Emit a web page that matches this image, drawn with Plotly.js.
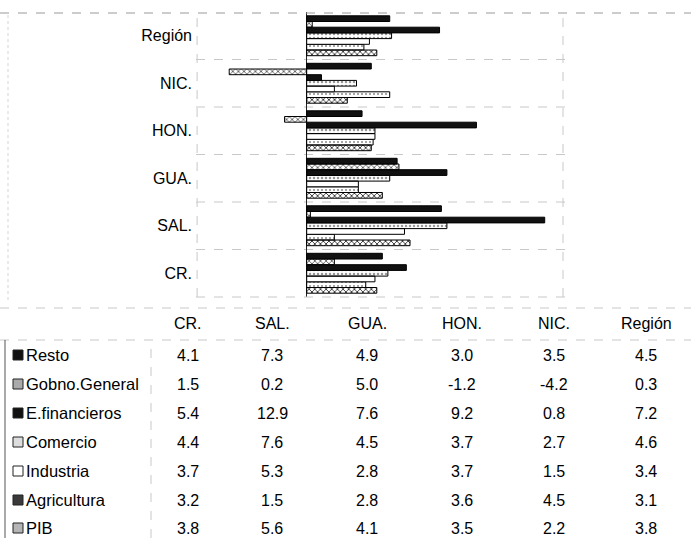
<!DOCTYPE html>
<html>
<head>
<meta charset="utf-8">
<script src="https://cdn.plot.ly/plotly-3.0.1.min.js"></script>
<style>html,body{margin:0;padding:0;background:#fff;}#chart{width:691px;height:538px;}</style>
</head>
<body>
<div id="chart"></div>
<script>
// ---- data ----
const categories = ["CR.", "SAL.", "GUA.", "HON.", "NIC.", "Región"];
const resto       = [4.1, 7.3, 4.9, 3.0, 3.5, 4.5];
const gobno       = [1.5, 0.2, 5.0, -1.2, -4.2, 0.3];
const efin        = [5.4, 12.9, 7.6, 9.2, 0.8, 7.2];
const comercio    = [4.4, 7.6, 4.5, 3.7, 2.7, 4.6];
const industria   = [3.7, 5.3, 2.8, 3.7, 1.5, 3.4];
const agricultura = [3.2, 1.5, 2.8, 3.6, 4.5, 3.1];
const pib         = [3.8, 5.6, 4.1, 3.5, 2.2, 3.8];
const seriesNames = ["Resto", "Gobno.General", "E.financieros", "Comercio", "Industria", "Agricultura", "PIB"];
const seriesValues = [resto, gobno, efin, comercio, industria, agricultura, pib];

// ---- styles ----
const styles = {
  "Resto":         {color: "#111", pattern: {shape: ""}, swatch: "#111"},
  "Gobno.General": {color: "#c0c0c0", pattern: {shape: "x", fgcolor: "#444", size: 4, solidity: 0.35}, swatch: "#aaa"},
  "E.financieros": {color: "#111", pattern: {shape: ""}, swatch: "#111"},
  "Comercio":      {color: "#fff", pattern: {shape: ".", fgcolor: "#999", size: 4, solidity: 0.3}, swatch: "#ddd"},
  "Industria":     {color: "#fff", pattern: {shape: ""}, swatch: "#fff"},
  "Agricultura":   {color: "#222", pattern: {shape: ".", fgcolor: "#888", size: 4, solidity: 0.2}, swatch: "#3a3a3a"},
  "PIB":           {color: "#fff", pattern: {shape: "x", fgcolor: "#333", size: 4, solidity: 0.4}, swatch: "#b5b5b5"}
};

const L = 196, R = 126, T = 12, B = 241, Wd = 691, Ht = 538;
const W = Wd - L - R, H = Ht - T - B;
const px = x => (x - L) / W;
const py = y => (Ht - B - y) / H;

const traces = [];
for (let i = seriesNames.length - 1; i >= 0; i--) {
  const n = seriesNames[i];
  const s = styles[n];
  traces.push({
    type: "bar", orientation: "h", name: n,
    y: categories, x: seriesValues[i],
    marker: {color: s.color, pattern: s.pattern, line: {color: "#000", width: 1}},
    showlegend: false, hoverinfo: "skip"
  });
}

const shapes = [];
const annotations = [];
const faint = {color: "#c8c8c8", width: 1, dash: "dash"};

// category separators
for (let i = 0; i < categories.length - 1; i++) {
  shapes.push({type: "line", xref: "paper", yref: "y", x0: 0, x1: 1, y0: i + 0.5, y1: i + 0.5, line: faint, layer: "below"});
}
// plot frame lines
shapes.push({type: "line", xref: "paper", yref: "paper", x0: px(0), x1: px(Wd), y0: py(13), y1: py(13), line: {color: "#999", width: 1, dash: "dash"}});
shapes.push({type: "line", xref: "paper", yref: "paper", x0: 0, x1: 1, y0: 0, y1: 0, line: faint});
shapes.push({type: "line", xref: "paper", yref: "paper", x0: 0.003, x1: 0.003, y0: 0, y1: 1, line: faint});
shapes.push({type: "line", xref: "paper", yref: "paper", x0: px(563), x1: px(563), y0: 0, y1: 1, line: faint});
shapes.push({type: "line", xref: "paper", yref: "paper", x0: px(8), x1: px(8), y0: py(300), y1: py(13), line: {color: "#d5d5d5", width: 1, dash: "dot"}});

// table lines
shapes.push({type: "line", xref: "paper", yref: "paper", x0: px(0), x1: px(Wd), y0: py(308), y1: py(308), line: faint});
shapes.push({type: "line", xref: "paper", yref: "paper", x0: px(0), x1: px(Wd), y0: py(340), y1: py(340), line: faint});
shapes.push({type: "line", xref: "paper", yref: "paper", x0: px(5), x1: px(5), y0: py(Ht), y1: py(340), line: {color: "#555", width: 1}});
shapes.push({type: "line", xref: "paper", yref: "paper", x0: px(151), x1: px(151), y0: py(Ht), y1: py(340), line: faint});

const colX = [188, 272, 367, 462, 554, 646];
const rowY = [355, 384, 413, 442, 471, 500, 528];
const headerY = 323;
const font = {family: "Liberation Sans, Arial, sans-serif", size: 16, color: "#000"};
const labelFont = {family: "Liberation Sans, Arial, sans-serif", size: 16.5, color: "#000"};

categories.forEach((c, j) => {
  annotations.push({xref: "paper", yref: "paper", x: px(colX[j]), y: py(headerY), text: c, showarrow: false, xanchor: "center", yanchor: "middle", font: font});
});
seriesNames.forEach((n, i) => {
  const y = rowY[i];
  shapes.push({type: "rect", xref: "paper", yref: "paper", x0: px(13), x1: px(23), y0: py(y + 5), y1: py(y - 5), fillcolor: styles[n].swatch, line: {color: "#222", width: 1}});
  annotations.push({xref: "paper", yref: "paper", x: px(24), y: py(y), text: n, showarrow: false, xanchor: "left", yanchor: "middle", font: labelFont});
  seriesValues[i].forEach((v, j) => {
    annotations.push({xref: "paper", yref: "paper", x: px(colX[j]), y: py(y), text: v.toFixed(1), showarrow: false, xanchor: "center", yanchor: "middle", font: font});
  });
});

const layout = {
  width: Wd, height: Ht,
  margin: {l: L, r: R, t: T, b: B, pad: 0},
  paper_bgcolor: "#fff", plot_bgcolor: "#fff",
  barmode: "group", bargap: 0.16, bargroupgap: 0,
  xaxis: {range: [-6, 14], showticklabels: false, showgrid: false, zeroline: true, zerolinecolor: "#222", zerolinewidth: 1, showline: false, ticks: ""},
  yaxis: {type: "category", showgrid: false, zeroline: false, showline: false, ticks: "", tickfont: font, ticklabelstandoff: 3, automargin: false},
  shapes: shapes,
  annotations: annotations,
  font: font
};

Plotly.newPlot("chart", traces, layout, {staticPlot: true, displayModeBar: false});
</script>
</body>
</html>
